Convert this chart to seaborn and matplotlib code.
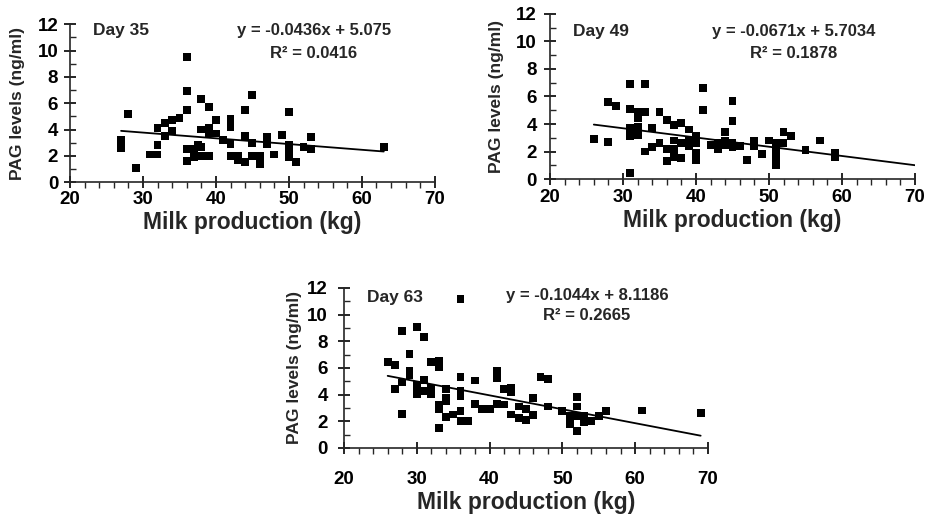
import matplotlib.pyplot as plt
import seaborn as sns
import pandas as pd
import numpy as np
from matplotlib.ticker import MultipleLocator

# Dados (produção de leite em kg, PAG em ng/ml).
milk_35 = [27, 27, 28, 29, 31, 32, 32, 32, 33, 33, 34, 34, 35,
           36, 36, 36, 36, 36, 37, 37, 37.5, 38, 38, 38, 38,
           39, 39, 39, 39, 40, 40, 41, 42, 42, 42, 42, 43, 43,
           44, 44, 44, 45, 45, 45, 46, 46, 47, 47, 48, 49,
           50, 50, 50, 50, 51, 52, 53, 53, 63]
pag_35 = [3.2, 2.6, 5.2, 1.1, 2.1, 2.1, 4.1, 2.8, 4.5, 3.5, 4.7, 3.9, 4.9,
          9.5, 6.9, 5.5, 2.5, 1.6, 2.5, 1.9, 2.8, 6.3, 4.0, 2.7, 2.0,
          5.7, 4.1, 3.7, 2.0, 4.7, 3.7, 3.2, 4.8, 4.2, 2.9, 2.0, 2.0, 1.7,
          5.5, 3.5, 1.5, 6.6, 3.0, 2.0, 2.0, 1.4, 3.4, 2.9, 2.1, 3.6,
          5.3, 2.8, 2.3, 1.9, 1.5, 2.7, 3.4, 2.5, 2.7]

milk_49 = [26, 28, 28, 29, 31, 31, 31, 31, 31, 31, 32, 32, 32, 32,
           33, 33, 33, 34, 34, 35, 35, 36, 36, 36, 37, 37, 37, 37,
           38, 38, 38, 39, 39, 39, 40, 40, 40, 40, 41, 41, 42, 43, 43,
           44, 44, 44, 45, 45, 45, 45, 46, 47, 48, 48, 49, 50,
           51, 51, 51, 51, 51, 52, 52, 53, 55, 57, 59, 59]
pag_49 = [2.9, 2.7, 5.6, 5.3, 6.9, 5.1, 3.7, 3.3, 3.1, 0.45, 4.9, 4.4, 3.8, 3.2,
          6.9, 4.9, 2.0, 3.7, 2.3, 4.9, 2.6, 4.3, 2.2, 1.3, 3.9, 2.8, 2.2, 1.6,
          4.1, 2.6, 1.5, 3.6, 2.8, 2.4, 3.1, 2.6, 1.9, 1.4, 6.6, 5.0, 2.5, 2.6, 2.2,
          3.4, 2.8, 2.5, 5.7, 4.2, 2.6, 2.3, 2.4, 1.4, 2.8, 2.4, 1.8, 2.8,
          2.6, 2.2, 1.8, 1.4, 1.0, 3.4, 2.6, 3.1, 2.1, 2.8, 1.9, 1.6]

milk_63 = [26, 27, 27, 28, 28, 28, 29, 29, 29, 30, 30, 30, 30, 31, 31, 31,
           32, 32, 32, 33, 33, 33, 33, 33, 34, 34, 34, 34, 35,
           36, 36, 36, 36, 36, 36, 37, 38, 38, 39, 40, 41, 41, 41,
           42, 42, 43, 43, 43, 44, 44, 45, 45, 46, 46, 47, 48, 48,
           50, 51, 51, 52, 52, 52, 52, 53, 53, 54, 55, 56, 61, 69]
pag_63 = [6.45, 6.25, 4.4, 8.8, 4.9, 2.55, 7.05, 5.75, 5.5, 9.05, 4.75, 4.4, 4.0, 8.3, 5.1, 4.25,
          6.45, 4.5, 4.0, 6.55, 6.1, 3.25, 2.9, 1.5, 4.4, 3.75, 3.5, 2.3, 2.5,
          11.2, 5.3, 4.25, 3.9, 2.75, 2.0, 2.0, 5.05, 3.3, 2.9, 2.9, 5.75, 5.25, 3.3,
          4.4, 3.25, 4.5, 4.2, 2.5, 3.1, 2.25, 2.9, 2.1, 3.75, 2.45, 5.3, 5.2, 3.1,
          2.75, 2.4, 1.8, 3.8, 3.1, 2.4, 1.25, 2.4, 1.9, 2.0, 2.4, 2.75, 2.8, 2.6]

days = ['Day 35', 'Day 49', 'Day 63']
slopes = [-0.0436, -0.0671, -0.1044]
intercepts = [5.075, 5.7034, 8.1186]
r2 = ['0.0416', '0.1878', '0.2665']
line_start = [27, 26, 26]
line_end = [63, 70, 69]
equations = ['y = -0.0436x + 5.075', 'y = -0.0671x + 5.7034', 'y = -0.1044x + 8.1186']

sns.set_style('ticks')
plt.rcParams['font.family'] = ['Liberation Sans', 'DejaVu Sans']
plt.rcParams['font.weight'] = 'bold'

fig = plt.figure(figsize=(9.26, 5.16), dpi=100)

# Posição dos painéis (fração da figura).
boxes = [[0.0756, 0.647, 0.394, 0.306],
         [0.594, 0.653, 0.394, 0.320],
         [0.3715, 0.132, 0.393, 0.310]]
dados = [(milk_35, pag_35), (milk_49, pag_49), (milk_63, pag_63)]
# Altura (em unidades do eixo y) dos textos de cada painel.
day_y = [11.5, 10.7, 11.3]
eq_y = [11.5, 10.7, 11.4]
r2_y = [9.8, 9.1, 9.9]
# Espaçamentos dos rótulos em cada painel.
xpad = [2, 3, 12]
ypad = [4, 5, 7]
ylabpad = [9, 9, 4]

for i, (mx, py) in enumerate(dados):
    ax = fig.add_axes(boxes[i])
    df = pd.DataFrame({'milk': mx, 'pag': py})
    sns.scatterplot(data=df, x='milk', y='pag', ax=ax, marker='s', color='black',
                    s=32, edgecolor='none', linewidth=0, zorder=3)

    # Linha de tendência com os coeficientes impressos na figura.
    xl = np.array([line_start[i], line_end[i]])
    linha = pd.DataFrame({'x': xl, 'y': slopes[i] * xl + intercepts[i]})
    sns.lineplot(data=linha, x='x', y='y', ax=ax, color='black', linewidth=1.3)

    ax.set_xlim(20, 70)
    ax.set_ylim(0, 12)
    ax.xaxis.set_major_locator(MultipleLocator(10))
    ax.xaxis.set_minor_locator(MultipleLocator(2))
    ax.yaxis.set_major_locator(MultipleLocator(2))
    ax.yaxis.set_minor_locator(MultipleLocator(1))
    ax.tick_params(which='major', direction='inout', length=9, width=1.2,
                   labelsize=13.5, colors='black')
    ax.tick_params(axis='x', which='minor', direction='out', length=4, width=1.0)
    ax.tick_params(axis='y', which='minor', direction='in', length=4, width=1.0)
    ax.tick_params(axis='x', pad=xpad[i])
    ax.tick_params(axis='y', pad=ypad[i])
    for lab in ax.get_xticklabels() + ax.get_yticklabels():
        lab.set_fontweight('bold')
    sns.despine(ax=ax)
    ax.spines['left'].set_linewidth(1.2)
    ax.spines['bottom'].set_linewidth(1.2)

    ax.set_xlabel('Milk production (kg)', fontsize=16.5, fontweight='bold', labelpad=2)
    ax.set_ylabel('PAG levels (ng/ml)', fontsize=12.5, fontweight='bold', labelpad=ylabpad[i])

    ax.text(23.1, day_y[i], days[i], fontsize=12.5, fontweight='bold', va='center', ha='left')
    ax.text(53.4, eq_y[i], equations[i], fontsize=12, fontweight='bold', va='center', ha='center')
    ax.text(53.4, r2_y[i], 'R² = ' + r2[i], fontsize=12, fontweight='bold', va='center', ha='center')

plt.savefig('out.png', dpi=100)
